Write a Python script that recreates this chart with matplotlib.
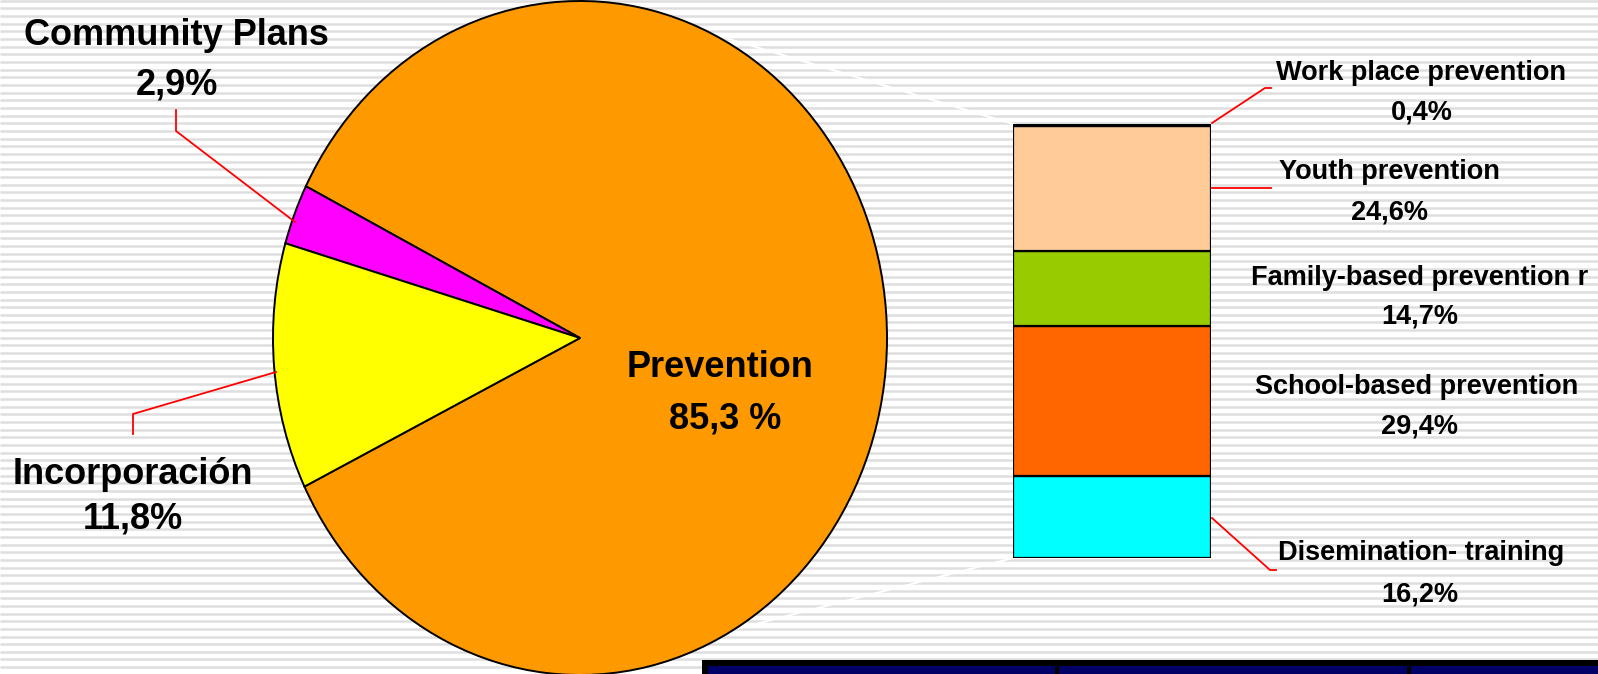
import numpy as np
import matplotlib
matplotlib.use("Agg")
import matplotlib.pyplot as plt
from matplotlib.patches import Rectangle

# ---------------- data ----------------
pie_labels = ['Prevention', 'Community Plans', 'Incorporación']
pie_values = [85.3, 2.9, 11.8]
pie_colors = ['#FF9900', '#FF00FF', '#FFFF00']
pie_pct_sep = [' ', '', '']

bar_labels = ['Disemination- training', 'School-based prevention',
              'Family-based prevention r', 'Youth prevention', 'Work place prevention']
bar_values = [16.2, 29.4, 14.7, 24.6, 0.4]
bar_colors = ['#00FFFF', '#FF6600', '#99CC00', '#FFCC99', '#FFCC99']


def pct(v, sep=''):
    return f"{v:.1f}".replace('.', ',') + sep + '%'


W, H = 1598, 674
plt.rcParams['font.family'] = ['Liberation Sans', 'DejaVu Sans']
fig = plt.figure(figsize=(W / 100, H / 100), dpi=100)
fig.patch.set_facecolor('white')


def Y(y):  # convert pixel-from-top to axes coordinate
    return H - y


# ---------------- background axes ----------------
bg = fig.add_axes([0, 0, 1, 1])
bg.set_xlim(0, W)
bg.set_ylim(0, H)
bg.axis('off')
bg.set_zorder(0)
period = H / 88
ys = np.arange(0, 89) * period + 0.8
bg.hlines([Y(y) for y in ys], 0, W, colors='#dedede', linewidth=1.8, zorder=0)

# bottom dark band
bg.add_patch(Rectangle((702, 0), W - 702, Y(660), facecolor='black', edgecolor='none', zorder=2))
for x0, x1 in [(708, 1055), (1059, 1407), (1411, W)]:
    bg.add_patch(Rectangle((x0, 0), x1 - x0, Y(666), facecolor='#000066', edgecolor='none', zorder=3))

# ---------------- pie (elliptical) ----------------
cx, cy, rx, ry = 580, Y(338), 307, 337
m = 1.05
pax = fig.add_axes([(cx - rx * m) / W, (cy - ry * m) / H, 2 * rx * m / W, 2 * ry * m / H])
pax.set_zorder(1)
pax.patch.set_alpha(0)
group_mid = 179.7
start = group_mid - 360 * (pie_values[1] + pie_values[2]) / 2 / 100 - 360 * pie_values[0] / 100
pax.pie(pie_values, colors=pie_colors, startangle=start, counterclock=True,
        wedgeprops=dict(edgecolor='black', linewidth=1.4))
pax.set_aspect('auto')
pax.set_xlim(-m, m)
pax.set_ylim(-m, m)
pax.axis('off')

# ---------------- stacked bar ----------------
bx0, bx1, by_top, by_bot = 1013, 1211, 124, 558
bax = fig.add_axes([bx0 / W, Y(by_bot) / H, (bx1 - bx0) / W, (by_bot - by_top) / H])
bax.set_zorder(2)
bax.patch.set_alpha(0)
bottoms = np.concatenate([[0], np.cumsum(bar_values)[:-1]])
bax.bar([0] * len(bar_values), bar_values, bottom=bottoms, width=1.0,
        color=bar_colors, edgecolor='black', linewidth=1.6)
bax.set_xlim(-0.5, 0.5)
bax.set_ylim(0, sum(bar_values))
bax.axis('off')

# ---------------- overlay for texts / leader lines ----------------
ov = fig.add_axes([0, 0, 1, 1])
ov.set_xlim(0, W)
ov.set_ylim(0, H)
ov.axis('off')
ov.set_zorder(3)
ov.patch.set_alpha(0)


def to_ov(ax, pt):
    return ov.transData.inverted().transform(ax.transData.transform(pt))


# white connector lines from pie to bar
tot = sum(bar_values)
top_left = to_ov(bax, (-0.5, tot))
bot_left = to_ov(bax, (-0.5, 0))
for ang, corner in [(64.4, top_left), (-59.9, bot_left)]:
    a = np.deg2rad(ang)
    p = (cx + rx * np.cos(a), cy + ry * np.sin(a))
    bg.plot([p[0], corner[0]], [p[1], corner[1]], color='white', lw=1.4, zorder=1)

red = '#FF0000'
lw_red = 1.3
# pie leaders
ov.plot([176, 176, 295], [Y(110), Y(131), Y(222)], color=red, lw=lw_red)
ov.plot([133, 133, 276], [Y(434), Y(414), Y(372)], color=red, lw=lw_red)
# bar leaders
ov.plot([1212, 1265, 1271], [Y(123), Y(88), Y(88)], color=red, lw=lw_red)
ov.plot([1212, 1271], [Y(188), Y(188)], color=red, lw=lw_red)
ov.plot([1212, 1270, 1276], [Y(518), Y(570), Y(570)], color=red, lw=lw_red)

big = 26
small = 19.5
tk = dict(ha='center', va='baseline', fontweight='bold', color='black')

# pie labels: (name x, name baseline, pct x, pct baseline)
pie_pos = [(720, 377, 725, 428), (176, 45, 177, 94), (133, 484, 133, 528)]
for lab, v, sep, (x1, y1, x2, y2) in zip(pie_labels, pie_values, pie_pct_sep, pie_pos):
    ov.text(x1, Y(y1), lab, fontsize=big, **tk)
    ov.text(x2, Y(y2), pct(v, sep), fontsize=big, **tk)

# bar labels
bar_pos = [(1421, 560, 1420, 602), (1417, 394, 1420, 433), (1420, 285, 1420, 324),
           (1389, 179, 1390, 219), (1421, 80, 1422, 119)]
for lab, v, (x1, y1, x2, y2) in zip(bar_labels, bar_values, bar_pos):
    ov.text(x1, Y(y1), lab, fontsize=small, **tk)
    ov.text(x2, Y(y2), pct(v), fontsize=small, **tk)

fig.savefig('out.png', dpi=100)
